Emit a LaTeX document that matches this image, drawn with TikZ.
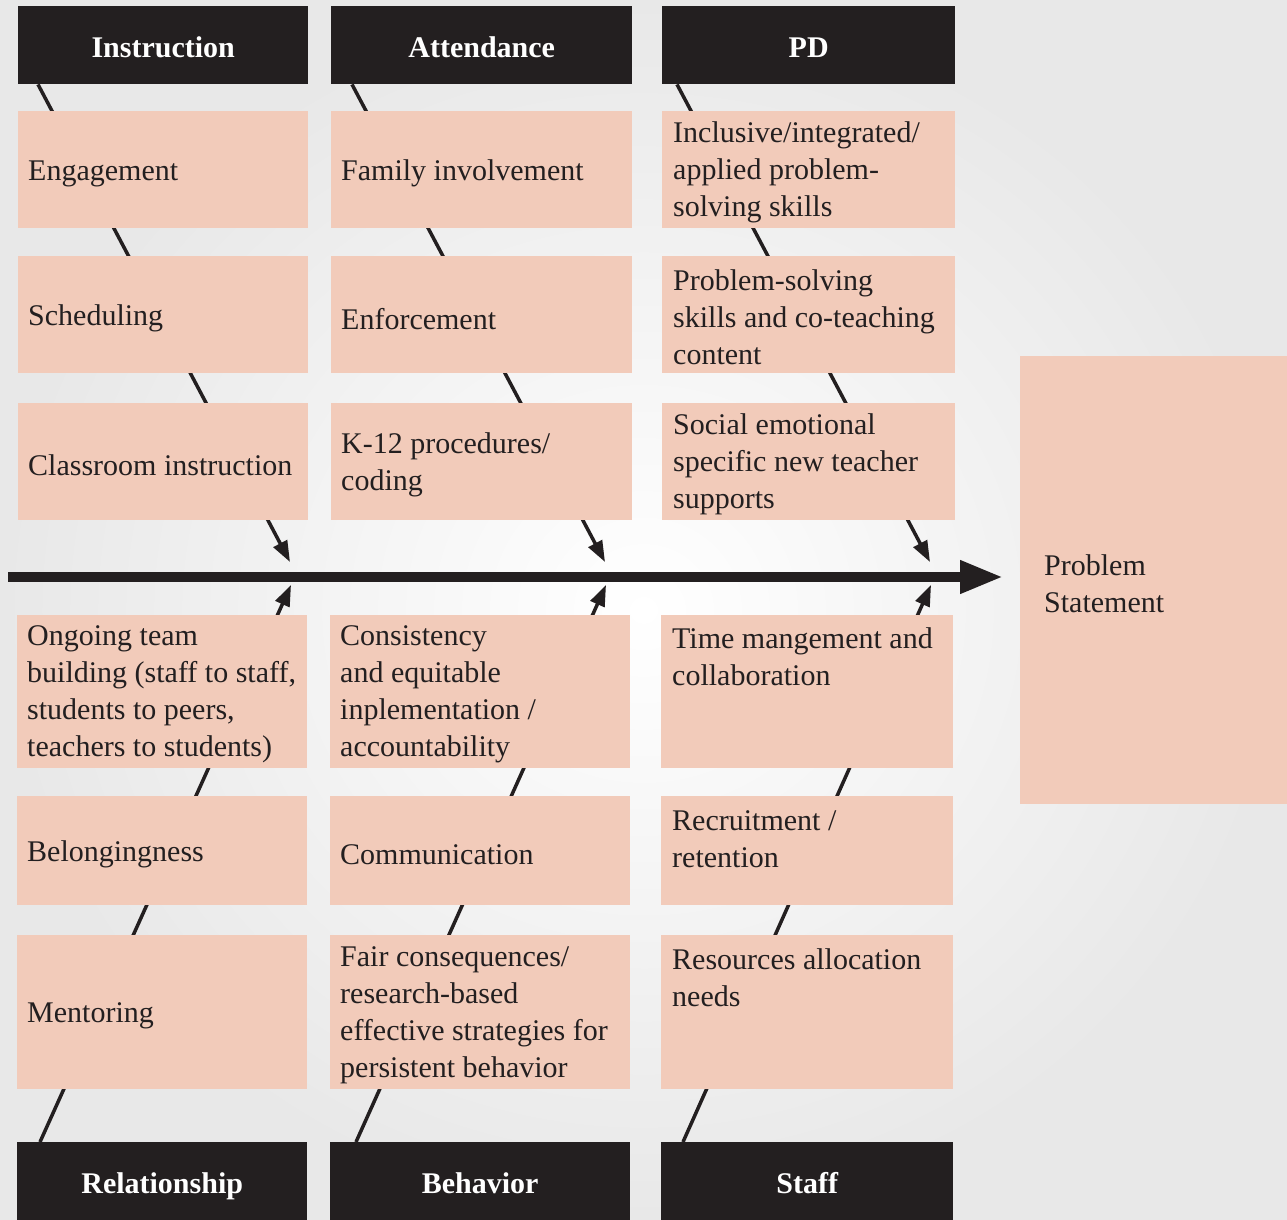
\documentclass[tikz,border=0pt]{standalone}
\usepackage{fontspec}
\setmainfont{Liberation Serif}
\usetikzlibrary{arrows.meta}
\definecolor{boxfill}{RGB}{242,203,186}
\definecolor{ink}{RGB}{35,31,32}
\definecolor{bgedge}{RGB}{232,232,232}
\pgfdeclarelayer{bglayer}
\pgfdeclarelayer{bonelayer}
\pgfsetlayers{bglayer,bonelayer,main}
\begin{document}
\begin{tikzpicture}[x=1pt,y=-1pt,
  cbox/.style={fill=boxfill, draw=none, inner sep=0pt, anchor=north west},
  hbox/.style={fill=ink, draw=none, inner sep=0pt, anchor=north west, text=white, text height=26pt, text depth=2pt, font=\fontsize{30}{36}\selectfont\bfseries},
  ctext/.style={text=ink, align=left, inner sep=0pt, font=\fontsize{30}{37}\selectfont},
  bone/.style={draw=ink, line width=3.5pt},
  bonearrow/.style={bone, -{Triangle[length=21pt,width=15pt]}},
]
\useasboundingbox (0,0) rectangle (1287,1220);
\begin{pgfonlayer}{bglayer}
  \shade[inner color=white, outer color=bgedge] (0,0) rectangle (1287,1220);
\end{pgfonlayer}

% top headers
\node[hbox, minimum width=290pt, minimum height=78pt] (hI) at (18,6) {Instruction};
\node[hbox, minimum width=301pt, minimum height=78pt] (hA) at (331,6) {Attendance};
\node[hbox, minimum width=293pt, minimum height=78pt] (hP) at (662,6) {PD};

% top boxes
\node[cbox, minimum width=290pt, minimum height=117pt] (i1) at (18,111) {};
\node[cbox, minimum width=290pt, minimum height=117pt] (i2) at (18,256) {};
\node[cbox, minimum width=290pt, minimum height=117pt] (i3) at (18,403) {};
\node[cbox, minimum width=301pt, minimum height=117pt] (a1) at (331,111) {};
\node[cbox, minimum width=301pt, minimum height=117pt] (a2) at (331,256) {};
\node[cbox, minimum width=301pt, minimum height=117pt] (a3) at (331,403) {};
\node[cbox, minimum width=293pt, minimum height=117pt] (p1) at (662,111) {};
\node[cbox, minimum width=293pt, minimum height=117pt] (p2) at (662,256) {};
\node[cbox, minimum width=293pt, minimum height=117pt] (p3) at (662,403) {};

\node[ctext, anchor=west] (i1t) at ([xshift=10pt,yshift=-4pt]i1.west) {Engagement};
\node[ctext, anchor=west] (i2t) at ([xshift=10pt,yshift=-4pt]i2.west) {Scheduling};
\node[ctext, anchor=west] (i3t) at ([xshift=10pt,yshift=-4pt]i3.west) {Classroom instruction};
\node[ctext, anchor=west] (a1t) at ([xshift=10pt,yshift=-4pt]a1.west) {Family involvement};
\node[ctext, anchor=west] (a2t) at ([xshift=10pt,yshift=-4pt]a2.west) {Enforcement};
\node[ctext, anchor=west] (a3t) at ([xshift=10pt,yshift=-3pt]a3.west) {K-12 procedures/\\coding};
\node[ctext, anchor=west] (p1t) at ([xshift=11pt,yshift=-3pt]p1.west) {Inclusive/integrated/\\applied problem-\\solving skills};
\node[ctext, anchor=west] (p2t) at ([xshift=11pt,yshift=-3pt]p2.west) {Problem-solving\\skills and co-teaching\\content};
\node[ctext, anchor=west] (p3t) at ([xshift=11pt,yshift=-3pt]p3.west) {Social emotional\\specific new teacher\\supports};

% bottom boxes
\node[cbox, minimum width=290pt, minimum height=153pt] (r1) at (17,615) {};
\node[cbox, minimum width=290pt, minimum height=109pt] (r2) at (17,796) {};
\node[cbox, minimum width=290pt, minimum height=154pt] (r3) at (17,935) {};
\node[cbox, minimum width=300pt, minimum height=153pt] (b1) at (330,615) {};
\node[cbox, minimum width=300pt, minimum height=109pt] (b2) at (330,796) {};
\node[cbox, minimum width=300pt, minimum height=154pt] (b3) at (330,935) {};
\node[cbox, minimum width=292pt, minimum height=153pt] (s1) at (661,615) {};
\node[cbox, minimum width=292pt, minimum height=109pt] (s2) at (661,796) {};
\node[cbox, minimum width=292pt, minimum height=154pt] (s3) at (661,935) {};

\node[ctext, anchor=west] (r1t) at ([xshift=10pt,yshift=-3pt]r1.west) {Ongoing team\\building (staff to staff,\\students to peers,\\teachers to students)};
\node[ctext, anchor=west] (r2t) at ([xshift=10pt,yshift=-4pt]r2.west) {Belongingness};
\node[ctext, anchor=west] (r3t) at ([xshift=10pt,yshift=-4pt]r3.west) {Mentoring};
\node[ctext, anchor=west] (b1t) at ([xshift=10pt,yshift=-3pt]b1.west) {Consistency\\and equitable\\inplementation /\\accountability};
\node[ctext, anchor=west] (b2t) at ([xshift=10pt,yshift=-4pt]b2.west) {Communication};
\node[ctext, anchor=west] (b3t) at ([xshift=10pt,yshift=-3pt]b3.west) {Fair consequences/\\research-based\\effective strategies for\\persistent behavior};
\node[ctext, anchor=base west] (s1t) at ([xshift=11pt,yshift=-70pt]s1.north west) {Time mangement and\\collaboration};
\node[ctext, anchor=base west] (s2t) at ([xshift=11pt,yshift=-71pt]s2.north west) {Recruitment /\\retention};
\node[ctext, anchor=base west] (s3t) at ([xshift=11pt,yshift=-71pt]s3.north west) {Resources allocation\\needs};

% bottom headers
\node[hbox, minimum width=290pt, minimum height=78pt] (hR) at (17,1142) {Relationship};
\node[hbox, minimum width=300pt, minimum height=78pt] (hB) at (330,1142) {Behavior};
\node[hbox, minimum width=292pt, minimum height=78pt] (hS) at (661,1142) {Staff};

% problem statement
\node[cbox, minimum width=267pt, minimum height=448pt] (ps) at (1020,356) {};
\node[ctext, anchor=west] (pst) at ([xshift=24pt,yshift=-4pt]ps.west) {Problem\\Statement};

% spine
\coordinate (spineL) at (8,577);
\coordinate (spineR) at (1003,577);
\draw[draw=ink, line width=10pt, -{Triangle[length=43pt,width=31pt]}] (spineL) -- (spineR);

% bone tips
\coordinate (tI) at (290,562);
\coordinate (tA) at (605,562);
\coordinate (tP) at (930,562);
\coordinate (tR) at (291,585);
\coordinate (tB) at (606,585);
\coordinate (tS) at (931,585);

\begin{pgfonlayer}{bonelayer}
  \draw[bonearrow] ([xshift=20pt]hI.south west) -- (tI);
  \draw[bonearrow] ([xshift=21pt]hA.south west) -- (tA);
  \draw[bonearrow] ([xshift=15pt]hP.south west) -- (tP);
  \draw[bonearrow] ([xshift=23pt]hR.north west) -- (tR);
  \draw[bonearrow] ([xshift=26pt]hB.north west) -- (tB);
  \draw[bonearrow] ([xshift=22pt]hS.north west) -- (tS);
\end{pgfonlayer}
\end{tikzpicture}
\end{document}
